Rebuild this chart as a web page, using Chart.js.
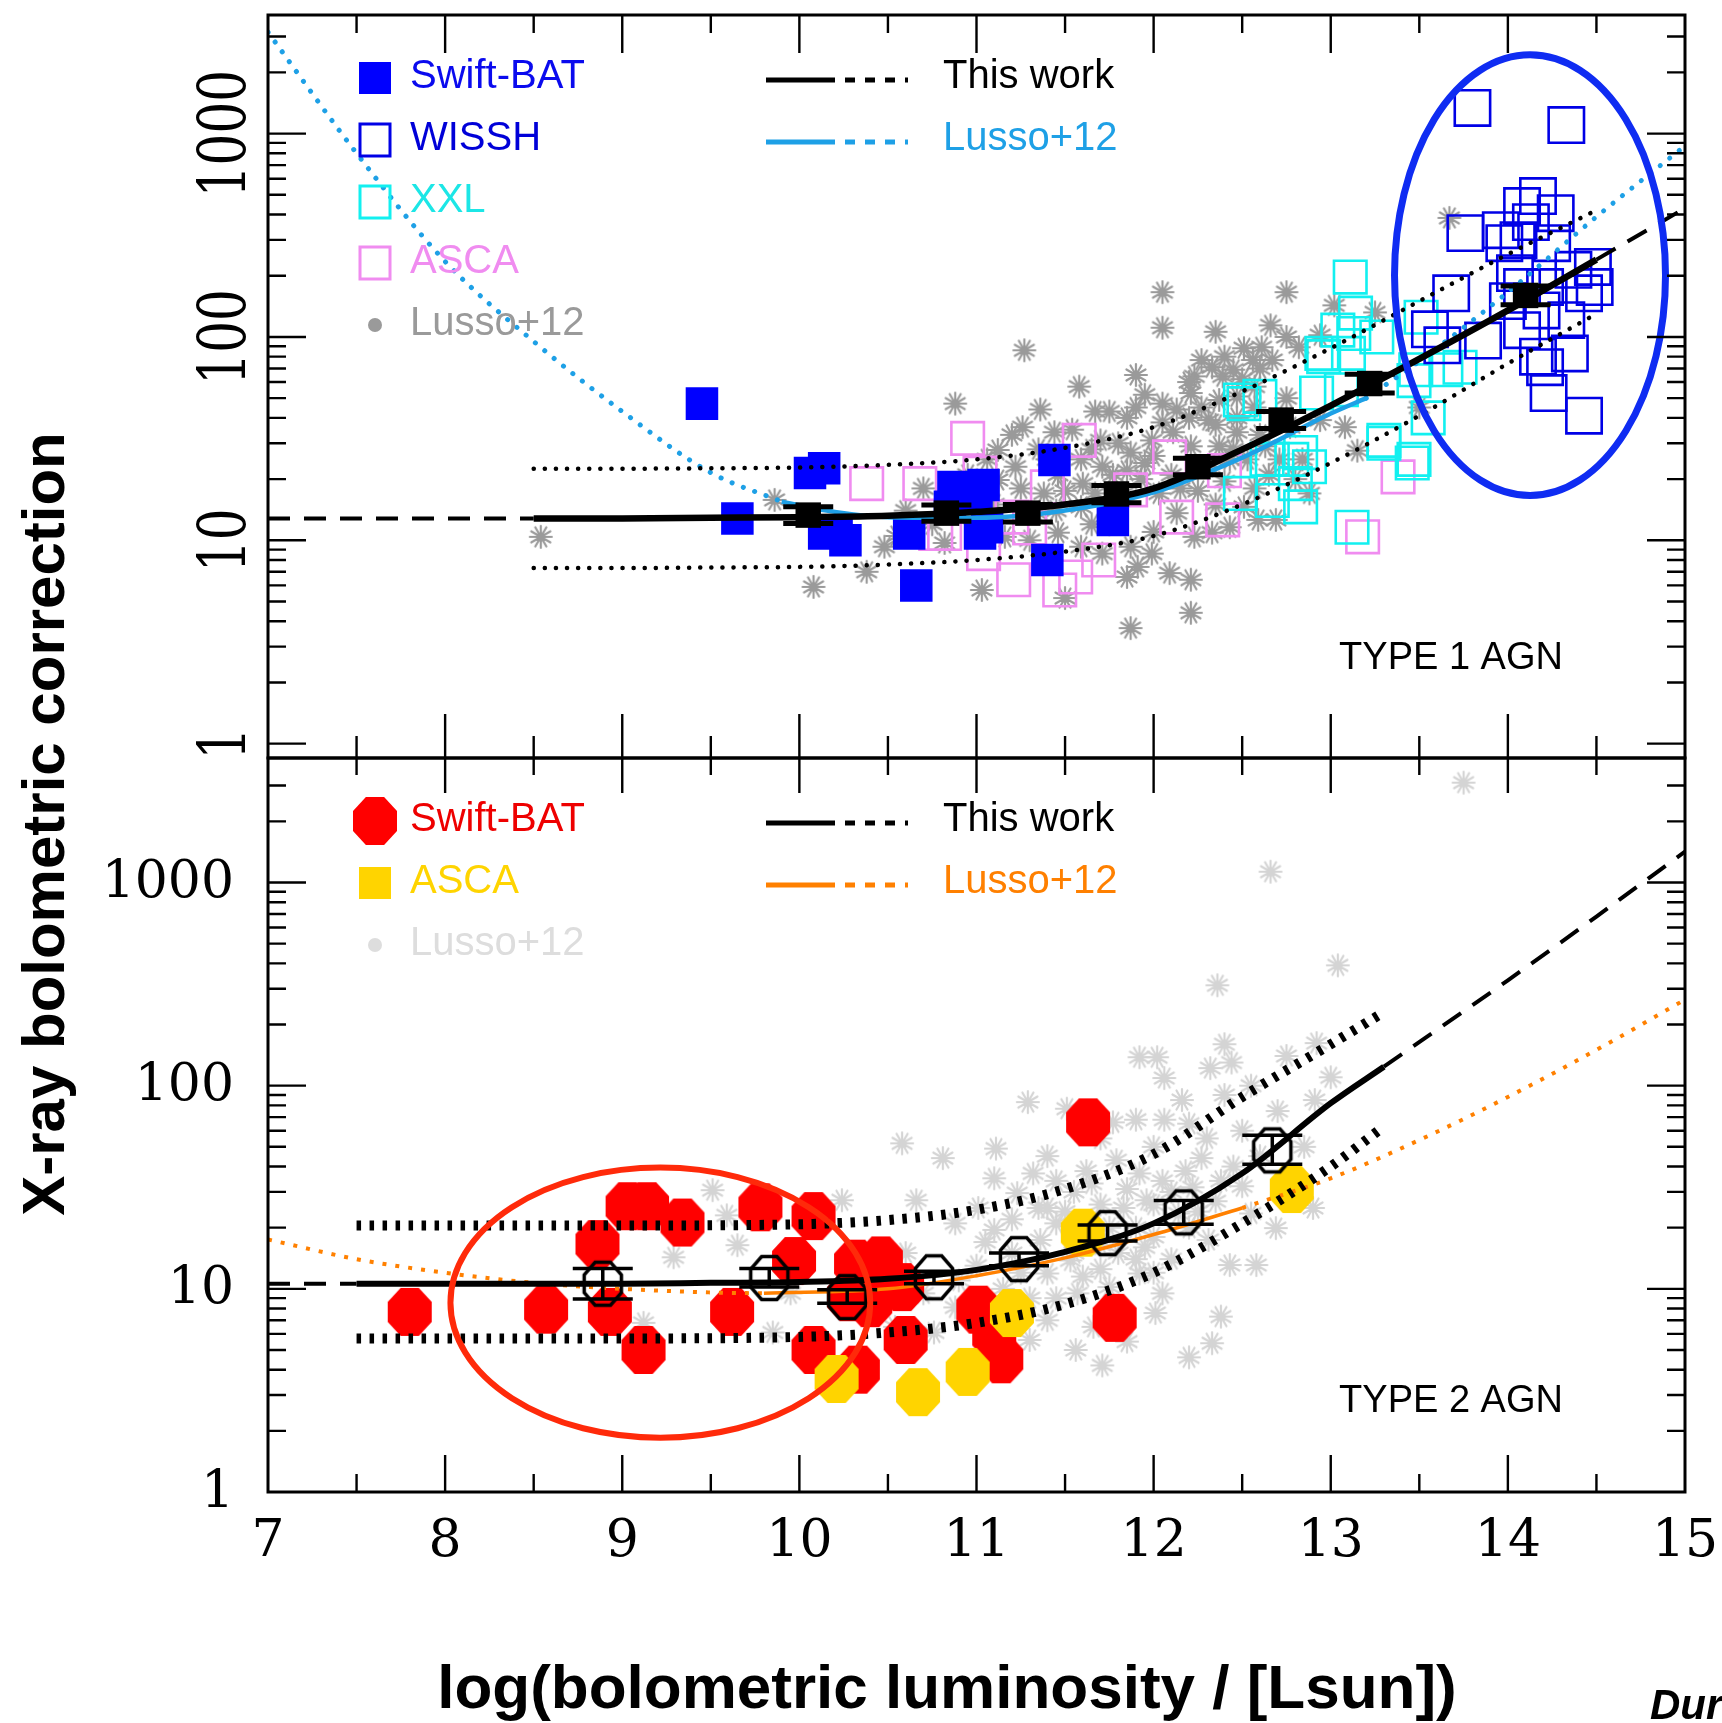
<!DOCTYPE html>
<html>
<head>
<meta charset="utf-8">
<script src="https://cdn.jsdelivr.net/npm/chart.js@4.4.1/dist/chart.umd.min.js"></script>
<style>
html, body { margin: 0; padding: 0; background: #fff; }
body { width: 1722px; height: 1723px; overflow: hidden; position: relative; font-family: "Liberation Sans", Arial, sans-serif; }
#top { position: absolute; left: 0; top: 0; }
#bot { position: absolute; left: 0; top: 740px; }
#ytitle { position: absolute; left: -406px; top: 789px; width: 900px; text-align: center; font-weight: bold; font-size: 60px; line-height: 70px; transform: rotate(-90deg); white-space: nowrap; }
#xtitle { position: absolute; left: 347px; top: 1650px; width: 1200px; text-align: center; font-weight: bold; font-size: 62px; line-height: 74px; white-space: nowrap; }
#credit { position: absolute; left: 1650px; top: 1684px; font-weight: bold; font-style: italic; font-size: 42px; line-height: 42px; white-space: nowrap; }
</style>
</head>
<body>
<canvas id="top" width="1722" height="760"></canvas>
<canvas id="bot" width="1722" height="983"></canvas>
<div id="ytitle">X-ray bolometric correction</div>
<div id="xtitle">log(bolometric luminosity / [Lsun])</div>
<div id="credit">Duras+20</div>
<script>
// axis ticks
const xTicks = [7, 8, 9, 10, 11, 12, 13, 14, 15];
const yTicks = [1, 10, 100, 1000];

// ---- TYPE 1 panel (top) : [log Lbol, Kx] ----
const t1Swift = [[9.45,47],[9.65,12.8],[10.06,21.4],[10.14,22.6],[10.14,10.8],[10.21,11.2],[10.26,10],[10.62,10.8],[10.66,6.0],[10.87,18.3],[11.04,18.7],[10.85,14.6],[11.0,17],[11.02,10.8],[11.06,11.6],[11.44,24.8],[11.77,12.6],[11.40,8.0]];
const t1Wissh = [[13.80,1337],[14.33,1102],[13.76,324],[14.17,493],[14.08,440],[14.27,406],[13.98,289],[14.06,299],[14.25,289],[14.48,221],[14.49,176],[13.68,164],[14.04,206],[14.21,176],[14.43,164],[14.19,135],[14.33,121],[14.08,108],[13.86,96],[13.63,91],[14.17,80],[14.35,83],[14.21,71],[14.23,53],[14.43,41],[14.08,176],[14.37,214],[14.13,367],[13.96,335],[13.56,109],[14.0,150]];
const t1Xxl = [[13.11,197],[13.13,104],[12.95,83],[13.10,83],[13.26,100],[13.04,108],[13.51,125],[13.65,69],[13.47,61],[13.48,69],[13.30,31],[13.46,24],[12.51,47],[12.60,51],[12.92,53],[13.06,55],[12.83,27],[12.78,25],[12.88,23],[12.67,25],[12.49,17],[12.67,15.7],[12.83,14.6],[13.12,11.6],[12.49,49],[12.64,25],[12.80,19],[13.55,40],[13.73,71],[13.14,131],[12.96,80],[13.30,30],[13.47,25]];
const t1Asca = [[10.38,19],[10.68,19],[10.95,31.7],[11.02,21.4],[11.58,31],[11.40,18.3],[12.09,25.7],[11.87,17.7],[12.13,13],[12.39,12.6],[11.21,6.4],[11.47,5.7],[11.69,8],[11.56,6.6],[11.04,8.6],[10.82,10.8],[10.77,10.8],[13.38,20.5],[13.18,10.4],[11.3,11.5],[11.2,13],[12.4,22]];
const t1Lusso = [[9.86,15.8],[8.54,10.4],[10.08,5.9],[10.38,7.0],[10.48,9.3],[10.88,47],[11.27,86],[11.90,65],[12.05,111],[11.58,57],[11.36,44],[11.26,36],[11.03,5.7],[11.87,3.7],[11.12,27.8],
  [12.05,166],[12.75,166],[13.02,143],[13.25,132],[12.94,102],[12.35,106],[12.66,114],[12.75,100],[12.51,88],[12.61,89],[12.82,89],[12.56,77],[12.67,77],[12.27,77],[12.23,64],[12.33,71],[12.39,64],[12.21,53],[12.45,69],[11.95,52],[12.05,47],[11.67,43],[11.75,43],[11.85,40],[11.44,34],[11.54,35],[12.13,44],[12.27,45],[12.37,49],[12.47,51],[12.57,57],[12.31,39],[12.47,40],[12.57,45],
  [11.59,25],[11.71,23],[11.87,27],[11.99,31],[12.11,34],[12.21,29],[12.37,29],[12.43,25],[12.47,34],[12.53,25],[12.63,29],[12.71,25],[12.65,21],[12.57,18],[12.51,14.6],[12.59,12.6],[12.69,12.6],[12.43,11.6],[12.33,10.9],[12.23,10.4],[12.13,13.6],[12.03,17],[11.93,20],[11.77,21],[11.83,17],[11.67,17],[11.59,14.6],[11.46,21],[11.38,17],[11.34,13.6],[11.22,23],[11.12,19.8],[11.06,25],[10.96,17],[11.02,11.6],[11.16,10.4],[11.30,10],[11.46,10.9],[11.59,9.3],[11.71,8.6],[11.87,9.3],[11.91,7.4],[11.99,8.6],[12.09,6.9],[12.21,6.4],[11.85,6.6],[12.21,4.4],[10.82,9.7],[11.50,5.2],[12.88,17],[12.84,25],[13.08,36],[12.94,39],[12.77,36],
  [13.67,385],[13.5,45],[13.15,27.6],[10.6,14],[10.75,12],[10.9,13.5],[10.7,18],[10.95,21],[10.55,10.5],
  [11.8,30],[11.95,24],[12.1,21],[12.25,17.5],[12.4,19.5],[11.65,28],[11.5,17.5],[11.4,25],[11.75,12],[12.0,11],[11.1,15],[11.25,18],[12.35,37],[12.2,40],[12.5,62],
  [11.6,19],[11.7,31],[11.85,22],[12.0,26],[12.15,18],[12.3,23],[12.45,28],[12.6,33],[12.05,38],[11.9,45],[12.2,60],[12.4,80],[12.6,70],[12.75,50],[11.45,14],[11.65,12],[11.35,28],[11.2,33],[12.35,15],[12.8,20]];
const t1Bins = [[10.05,13.3,12.1,14.6],[10.83,13.6,12.4,14.9],[11.29,13.6,12.3,15.0],[11.79,16.9,15.3,18.6],[12.25,23,21,25.3],[12.72,39,35.5,43],[13.22,59,53,65.5],[14.1,160,144,178]];
const t1Fit = [[8.5,12.8],[9,12.8],[9.5,12.9],[10,13.0],[10.5,13.2],[11,13.8],[11.5,15.0],[12,18],[12.5,28],[13,46],[13.5,78],[14,135],[14.5,240]];
const t1FitLow = [[7,12.8],[8.5,12.8]];
const t1FitHigh = [[14.5,240],[15,430]];
const t1Up = [[8.5,22.5],[9,22.5],[9.5,22.6],[10,22.8],[10.5,23.5],[11,25],[11.5,28.5],[12,36],[12.5,54],[13,88],[13.5,150],[14,255],[14.5,420]];
const t1Dn = [[8.5,7.3],[9,7.3],[9.5,7.35],[10,7.4],[10.5,7.6],[11,8.0],[11.5,8.8],[12,10.5],[12.5,15],[13,24],[13.5,41],[14,74],[14.5,130]];
const t1L12a = [[7,3150],[7.5,800],[8,235],[8.5,95],[9,43],[9.5,21.5],[9.9,15.5]];
const t1L12 = [[9.9,15.5],[10.2,13.8],[10.5,13.0],[11,12.9],[11.5,14.0],[12,17.2],[12.5,25.5],[13,42],[13.2,50]];
const t1L12b = [[13.2,50],[13.5,76],[14,166],[14.5,390],[15,870]];

// ---- TYPE 2 panel (bottom) ----
const t2Swift = [[7.80,7.7],[8.57,7.9],[8.86,16.6],[9.03,25.5],[9.14,25.5],[9.34,21.2],[8.93,7.7],[9.12,5.0],[9.62,7.7],[9.78,25.2],[10.08,22.8],[9.97,13.7],[10.32,13.3],[10.46,13.8],[10.58,10.2],[10.08,5.0],[10.33,4.0],[10.60,5.6],[10.28,9.1],[10.40,8.5],[11.01,7.9],[11.10,5.9],[11.14,4.5],[11.63,66],[11.78,7.2]];
const t2Asca = [[10.21,3.6],[10.67,3.1],[10.95,3.9],[11.20,7.6],[11.60,18.9],[12.78,31]];
const t2Lusso = [[13.04,391],[12.36,312],[12.92,162],[11.92,138],[12.02,138],[12.32,122],[12.44,130],[12.06,109],[12.40,90],[12.16,85],[11.29,83],[11.51,77],[10.58,52],[10.81,44],[11.11,49],[11.77,66],[11.90,68],[12.06,68],[12.91,85],[12.85,50],[12.69,19.9],[12.90,25],[12.58,13.1],[12.43,13.1],[12.38,7.3],[12.33,5.4],[12.20,4.6],[11.56,5],[11.71,4.2],[10.24,27.3],[10.66,27.3],[11.32,37],[11.45,34],[11.62,38],[11.79,43],[11.92,37],[12.05,34],[12.18,38],[12.27,44],[12.22,31.6],[12.38,34],[11.96,27.3],[11.83,25],[12.14,23.5],[11.40,25],[11.23,29.6],[11.01,25],[10.88,21],[11.10,19.5],[11.36,17.4],[11.53,13.8],[11.40,11.9],[11.57,9.5],[11.75,10.2],[11.92,11.9],[12.05,9.5],[12.01,7.6],[11.83,7.6],[11.66,6.5],[11.40,7],[11.30,5.6],[11.14,6.1],[10.88,8.1],[10.76,6.1],[10.54,6.5],[10.33,8.8],[12.31,17.4],[12.55,23.5],
  [9.51,30.6],[9.59,23],[9.65,16.4],[9.29,14.3],[9.12,6.8],[9.95,9.5],[9.85,6.1],[13.75,3100],[12.66,1130],
  [11.2,15],[11.0,13],[10.9,11],[11.6,20],[11.8,15],[12.0,18],[11.3,9],[10.7,9.5],[10.6,15],[12.5,60],[12.7,75],[12.6,45],[13.0,110],
  [11.45,21],[11.7,26],[11.9,20],[12.1,14],[12.25,24],[11.55,30],[11.2,22],[11.05,17],[11.7,16.5],[11.95,16],[12.45,40],[12.3,55],[11.6,11.5],[11.85,5.5],
  [11.35,25],[11.5,24],[11.65,33],[11.75,20],[11.85,31],[12.0,26],[12.1,30],[12.2,20],[12.35,27],[12.5,32],[11.15,10],[11.25,12],[11.45,9],[11.55,15],[11.7,12.5],[11.9,14],[12.0,12],[11.1,35],[11.4,45],[11.7,55],[12.0,50],[12.2,65],[12.55,100],[12.75,140],[12.4,160]];
const t2Bins = [[8.89,10.6,8.9,12.6],[9.83,11.3,10.2,12.6],[10.27,9.1,8.5,9.9],[10.76,11.4,10.6,12.2],[11.24,14.0,13.0,15.0],[11.74,18.8,17.2,20.6],[12.17,23.8,20.8,27.2],[12.67,48,41,57]];
const t2Fit = [[7.5,10.6],[8,10.6],[8.5,10.6],[9,10.6],[9.5,10.7],[10,10.8],[10.5,11.2],[11,12.4],[11.5,15.2],[12,21],[12.5,37],[13,82],[13.3,124]];
const t2FitLow = [[7,10.6],[7.5,10.6]];
const t2FitHigh = [[13.3,124],[14,330],[14.5,680],[15,1420]];
const t2Up = [[7.5,20.5],[8,20.5],[9,20.5],[10,20.8],[10.5,21.8],[11,24.5],[11.5,31],[12,46],[12.5,88],[13,160],[13.3,230]];
const t2Dn = [[7.5,5.7],[8,5.7],[9,5.7],[10,5.8],[10.5,6.1],[11,6.8],[11.5,8.4],[12,12],[12.5,21],[13,40],[13.3,63]];
const t2L12a = [[7,17.5],[7.5,14],[8,12],[8.5,10.7],[9,10],[9.5,9.6],[9.8,9.5]];
const t2L12 = [[9.8,9.5],[10.5,10],[11,11.6],[11.5,14.2],[12,18.5],[12.5,25]];
const t2L12b = [[12.5,25],[13,35],[13.5,54],[14,88],[14.5,150],[15,265]];

// highlighted regions (data coords)
const t1Ring = {xMin: 13.36, xMax: 14.89, yMin: 16.6, yMax: 2440};
const t2Ring = {xMin: 8.03, xMax: 10.40, yMin: 1.85, yMax: 39.5};

const serif = '"DejaVu Serif", "Liberation Serif", serif';
const sans = '"Liberation Sans", Arial, sans-serif';
const lussoBlue = '#1EA0E6';
const lussoOrange = '#FF8000';

Chart.defaults.font.family = sans;
Chart.defaults.animation = false;
Chart.defaults.events = [];

function pts(a) { return a.map(p => ({x: p[0], y: p[1]})); }

function makeOct(w, h, fill, stroke, lw) {
  const c = document.createElement('canvas');
  c.width = w + 6; c.height = h + 6;
  const g = c.getContext('2d');
  const rx = (w / 2) / Math.cos(Math.PI / 8), ry = (h / 2) / Math.cos(Math.PI / 8);
  g.beginPath();
  for (let i = 0; i < 8; i++) {
    const t = Math.PI / 8 + i * Math.PI / 4;
    const px = c.width / 2 + Math.cos(t) * rx * (stroke ? 0.93 : 1);
    const py = c.height / 2 + Math.sin(t) * ry * (stroke ? 0.93 : 1);
    i ? g.lineTo(px, py) : g.moveTo(px, py);
  }
  g.closePath();
  if (fill) { g.fillStyle = fill; g.fill(); }
  if (stroke) { g.strokeStyle = stroke; g.lineWidth = lw; g.stroke(); }
  return c;
}

function makeStar(r, color, lw) {
  const c = document.createElement('canvas');
  c.width = c.height = 2 * r + 4;
  const g = c.getContext('2d');
  const m = c.width / 2;
  g.strokeStyle = color; g.lineWidth = lw; g.lineCap = 'round';
  g.beginPath();
  for (let i = 0; i < 6; i++) {
    const t = i * Math.PI / 6;
    g.moveTo(m - Math.cos(t) * r, m - Math.sin(t) * r);
    g.lineTo(m + Math.cos(t) * r, m + Math.sin(t) * r);
  }
  g.stroke();
  return c;
}

const starTop = makeStar(11, '#9a9a9a', 2.2);
const starBot = makeStar(11, '#d4d4d4', 2.2);
const octRed = makeOct(44, 48, '#FF0000');
const octYel = makeOct(44, 48, '#FFD400');
const octBin = makeOct(40, 46, null, '#000', 3.5);

function pointSet(data, style, extra) {
  return Object.assign({data: pts(data), pointStyle: style, pointRadius: 10, borderWidth: 0, showLine: false}, extra || {});
}
function lineSet(data, color, width, dash, cap) {
  return {data: pts(data), showLine: true, pointRadius: 0, borderColor: color, borderWidth: width,
    borderDash: dash || [], borderCapStyle: cap || 'butt', fill: false, cubicInterpolationMode: 'monotone'};
}
function openSq(color, r) {
  return {pointRadius: r, backgroundColor: 'rgba(0,0,0,0)', borderColor: color, borderWidth: 2.6};
}
function layer(list) { list.forEach((d, i) => { d.order = list.length - i; }); return list; }

// inner ticks and frame
function makeFrame(yMin, yMax, tl) {
  return {
    id: 'frame',
    afterDraw(chart) {
      const {ctx, chartArea: a, scales: {x, y}} = chart;
      ctx.save();
      ctx.strokeStyle = '#000';
      ctx.lineWidth = 2.4;
      ctx.beginPath();
      for (let k = 15; k <= 29; k++) {
        const px = x.getPixelForValue(k / 2), major = k % 2 === 0;
        ctx.moveTo(px, a.top); ctx.lineTo(px, a.top + (major ? tl.top[0] : tl.top[1]));
        ctx.moveTo(px, a.bottom); ctx.lineTo(px, a.bottom - (major ? tl.bot[0] : tl.bot[1]));
      }
      for (let d = 1; d <= 1000; d *= 10) {
        for (let m = 1; m <= 9; m++) {
          const v = m * d;
          if (v < yMin || v > yMax) continue;
          const py = y.getPixelForValue(v);
          if (py < a.top + 3 || py > a.bottom - 3) continue;
          const L = m === 1 ? 38 : 18;
          ctx.moveTo(a.left, py); ctx.lineTo(a.left + L, py);
          ctx.moveTo(a.right, py); ctx.lineTo(a.right - L, py);
        }
      }
      ctx.stroke();
      ctx.lineWidth = 3;
      ctx.strokeRect(a.left, a.top, a.right - a.left, a.bottom - a.top);
      ctx.restore();
    }
  };
}

// tick labels: rotated (upper panel) or plain with x labels (lower panel)
function makeLabels(rotated) {
  return {
    id: 'tickLabels',
    afterDraw(chart) {
      const {ctx, chartArea: a, scales: {x, y}} = chart;
      ctx.save();
      ctx.fillStyle = '#000';
      if (rotated) {
        ctx.font = '50px ' + serif;
        ctx.textAlign = 'center';
        ctx.textBaseline = 'alphabetic';
        yTicks.forEach(v => {
          ctx.save();
          ctx.translate(222, y.getPixelForValue(v));
          ctx.rotate(-Math.PI / 2);
          ctx.scale(1, 1.3);
          ctx.fillText(String(v), 0, 18);
          ctx.restore();
        });
      } else {
        ctx.font = '52px ' + serif;
        ctx.textBaseline = 'middle';
        ctx.textAlign = 'right';
        yTicks.forEach(v => ctx.fillText(String(v), a.left - 34, y.getPixelForValue(v) + 1));
        ctx.textAlign = 'center';
        xTicks.forEach(v => ctx.fillText(String(v), x.getPixelForValue(v), a.bottom + 50));
      }
      ctx.restore();
    }
  };
}

function makeErrBars(bins, capW, lw) {
  return {
    id: 'errBars',
    afterDatasetsDraw(chart) {
      const {ctx, scales: {x, y}} = chart;
      ctx.save();
      ctx.strokeStyle = '#000';
      ctx.lineWidth = lw;
      ctx.beginPath();
      bins.forEach(b => {
        const px = x.getPixelForValue(b[0]);
        const lo = y.getPixelForValue(b[2]), hi = y.getPixelForValue(b[3]);
        ctx.moveTo(px, lo); ctx.lineTo(px, hi);
        ctx.moveTo(px - capW / 2, lo); ctx.lineTo(px + capW / 2, lo);
        ctx.moveTo(px - capW / 2, hi); ctx.lineTo(px + capW / 2, hi);
      });
      ctx.stroke();
      ctx.restore();
    }
  };
}

function makeRing(r, color, lw) {
  return {
    id: 'ring',
    afterDatasetsDraw(chart) {
      const {ctx, scales: {x, y}} = chart;
      const x0 = x.getPixelForValue(r.xMin), x1 = x.getPixelForValue(r.xMax);
      const y0 = y.getPixelForValue(r.yMax), y1 = y.getPixelForValue(r.yMin);
      ctx.save();
      ctx.strokeStyle = color;
      ctx.lineWidth = lw;
      ctx.beginPath();
      ctx.ellipse((x0 + x1) / 2, (y0 + y1) / 2, (x1 - x0) / 2, (y1 - y0) / 2, 0, 0, Math.PI * 2);
      ctx.stroke();
      ctx.restore();
    }
  };
}

const legendRows = [63, 125, 187, 248, 310];

function drawMark(ctx, kind, x, y, color) {
  ctx.fillStyle = color; ctx.strokeStyle = color;
  if (kind === 'fsq') ctx.fillRect(x - 16, y - 16, 32, 32);
  else if (kind === 'osq') { ctx.lineWidth = 3; ctx.strokeRect(x - 15, y - 16, 30, 32); }
  else if (kind === 'dot') { ctx.beginPath(); ctx.arc(x, y, 7, 0, Math.PI * 2); ctx.fill(); }
  else if (kind === 'oct') ctx.drawImage(octRed, x - octRed.width / 2, y - octRed.height / 2);
}

function makeLegend(marks, lines, tag) {
  return {
    id: 'legendBox',
    afterDatasetsDraw(chart) {
      const {ctx, chartArea: a} = chart;
      ctx.save();
      ctx.font = '40px ' + sans;
      ctx.textBaseline = 'middle';
      ctx.textAlign = 'left';
      marks.forEach((m, i) => {
        const yy = a.top + legendRows[i];
        drawMark(ctx, m.kind, a.left + 107, yy, m.color);
        ctx.fillStyle = m.text;
        ctx.fillText(m.label, a.left + 142, yy - 1);
      });
      lines.forEach((l, i) => {
        const yy = a.top + legendRows[i];
        ctx.strokeStyle = l.color; ctx.lineWidth = 5;
        ctx.setLineDash([]);
        ctx.beginPath(); ctx.moveTo(a.left + 498, yy + 2); ctx.lineTo(a.left + 567, yy + 2); ctx.stroke();
        ctx.setLineDash([10, 10]);
        ctx.beginPath(); ctx.moveTo(a.left + 577, yy + 2); ctx.lineTo(a.left + 640, yy + 2); ctx.stroke();
        ctx.fillStyle = l.text;
        ctx.fillText(l.label, a.left + 675, yy - 1);
      });
      ctx.setLineDash([]);
      ctx.font = '38px ' + sans;
      ctx.fillStyle = '#000';
      ctx.textAlign = 'center';
      ctx.fillText(tag, a.left + 1183, a.top + 644);
      ctx.restore();
    }
  };
}

// ---------- top chart ----------
const topSets = layer([
  pointSet(t1Lusso, starTop),
  pointSet(t1Asca, 'rect', openSq('#F08CF0', 23)),
  pointSet(t1Xxl, 'rect', openSq('#12F0F0', 23)),
  pointSet(t1Wissh, 'rect', openSq('#0000E6', 25)),
  pointSet(t1Swift, 'rect', {pointRadius: 23, backgroundColor: '#0000FF'}),
  lineSet(t1L12a, lussoBlue, 5, [0.1, 12], 'round'),
  lineSet(t1L12, lussoBlue, 4.5),
  lineSet(t1L12b, lussoBlue, 5, [0.1, 12], 'round'),
  lineSet(t1Up, '#000', 4.5, [0.1, 11], 'round'),
  lineSet(t1Dn, '#000', 4.5, [0.1, 11], 'round'),
  lineSet(t1FitLow, '#000', 4, [22, 14]),
  lineSet(t1FitHigh, '#000', 4, [22, 14]),
  lineSet(t1Fit, '#000', 6.5),
  pointSet(t1Bins.map(b => [b[0], b[1]]), 'rect', {pointRadius: 18, backgroundColor: '#000'})
]);

new Chart(document.getElementById('top'), {
  type: 'scatter',
  data: {datasets: topSets},
  options: {
    responsive: false,
    layout: {autoPadding: false, padding: {left: 268, right: 37, top: 15, bottom: 2}},
    scales: {
      x: {type: 'linear', min: 7, max: 15, display: false},
      y: {type: 'logarithmic', min: 0.85, max: 3830, display: false}
    },
    plugins: {legend: {display: false}, tooltip: {enabled: false}}
  },
  plugins: [
    makeErrBars(t1Bins, 50, 5),
    makeRing(t1Ring, '#0F2CF2', 7),
    makeLegend([
      {kind: 'fsq', color: '#0000FF', text: '#0A0AEE', label: 'Swift-BAT'},
      {kind: 'osq', color: '#0000E6', text: '#0000D8', label: 'WISSH'},
      {kind: 'osq', color: '#12F0F0', text: '#1CE6E6', label: 'XXL'},
      {kind: 'osq', color: '#F08CF0', text: '#F08CF0', label: 'ASCA'},
      {kind: 'dot', color: '#9a9a9a', text: '#9a9a9a', label: 'Lusso+12'}
    ], [
      {color: '#000', text: '#000', label: 'This work'},
      {color: lussoBlue, text: lussoBlue, label: 'Lusso+12'}
    ], 'TYPE 1 AGN'),
    makeFrame(1, 3830, {top: [38, 18], bot: [44, 22]}),
    makeLabels(true)
  ]
});

// ---------- bottom chart ----------
const botSets = layer([
  pointSet(t2Lusso, starBot),
  pointSet(t2Swift, octRed),
  pointSet(t2Asca, octYel),
  lineSet(t2L12a, lussoOrange, 4, [4, 9]),
  lineSet(t2L12, lussoOrange, 3.5),
  lineSet(t2L12b, lussoOrange, 4, [4, 9]),
  lineSet(t2Up, '#000', 10, [4.5, 8.5]),
  lineSet(t2Dn, '#000', 10, [4.5, 8.5]),
  lineSet(t2FitLow, '#000', 4, [22, 14]),
  lineSet(t2FitHigh, '#000', 4, [22, 14]),
  lineSet(t2Fit, '#000', 6),
  pointSet(t2Bins.map(b => [b[0], b[1]]), octBin)
]);

new Chart(document.getElementById('bot'), {
  type: 'scatter',
  data: {datasets: botSets},
  options: {
    responsive: false,
    layout: {autoPadding: false, padding: {left: 268, right: 37, top: 18, bottom: 231}},
    scales: {
      x: {type: 'linear', min: 7, max: 15, display: false},
      y: {type: 'logarithmic', min: 1, max: 4100, display: false}
    },
    plugins: {legend: {display: false}, tooltip: {enabled: false}}
  },
  plugins: [
    makeErrBars(t2Bins, 60, 3.5),
    makeRing(t2Ring, '#FF2A0A', 6),
    makeLegend([
      {kind: 'oct', color: '#FF0000', text: '#EE0000', label: 'Swift-BAT'},
      {kind: 'fsq', color: '#FFD400', text: '#FFD400', label: 'ASCA'},
      {kind: 'dot', color: '#dddddd', text: '#dddddd', label: 'Lusso+12'}
    ], [
      {color: '#000', text: '#000', label: 'This work'},
      {color: lussoOrange, text: lussoOrange, label: 'Lusso+12'}
    ], 'TYPE 2 AGN'),
    makeFrame(1, 4100, {top: [35, 17], bot: [37, 18]}),
    makeLabels(false)
  ]
});
</script>
</body>
</html>
